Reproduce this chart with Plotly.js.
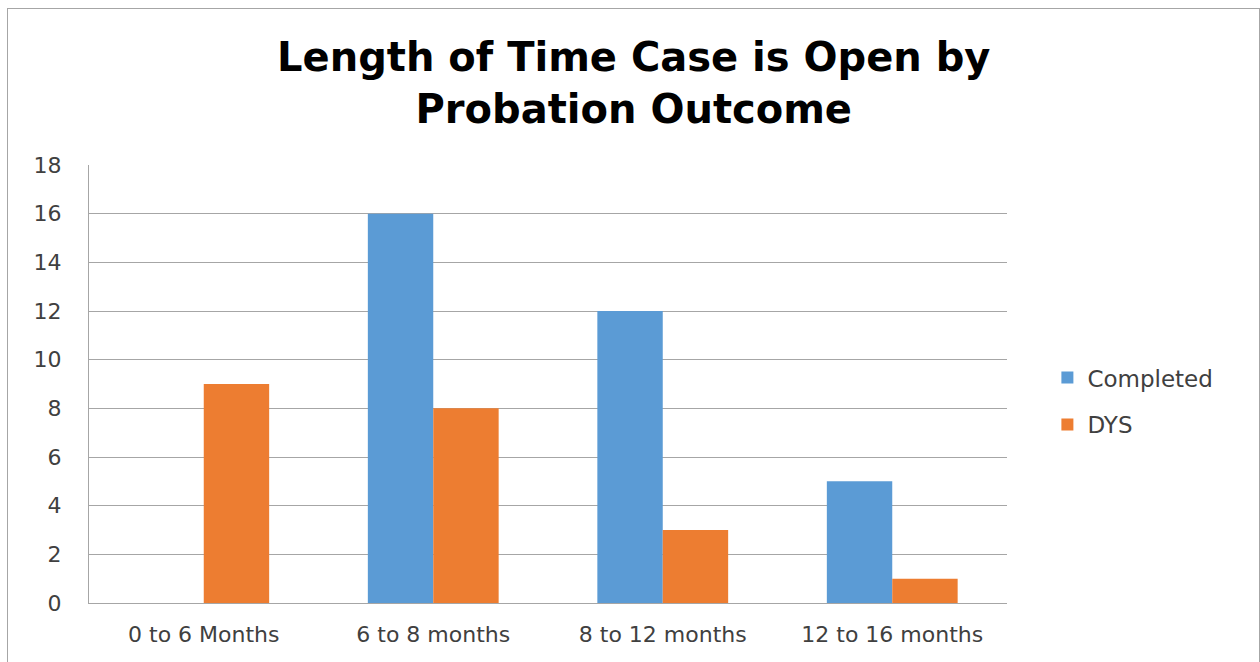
<!DOCTYPE html>
<html>
<head>
<meta charset="utf-8">
<script src="https://cdn.plot.ly/plotly-3.0.1.min.js"></script>
<style>
html,body{margin:0;padding:0;background:#fff;}
#wrap{position:relative;width:1260px;height:662px;overflow:hidden;}
#chart{width:1260px;height:662px;}
#frame{position:absolute;left:7px;top:8px;width:1251px;height:670px;border:1px solid #a6a6a6;pointer-events:none;}
</style>
</head>
<body>
<div id="wrap"><div id="chart"></div><div id="frame"></div></div>
<script>
const categories = ["0 to 6 Months", "6 to 8 months", "8 to 12 months", "12 to 16 months"];
const completed = [0, 16, 12, 5];
const dys = [9, 8, 3, 1];
const yTicks = [0, 2, 4, 6, 8, 10, 12, 14, 16, 18];

const font = "DejaVu Sans, Liberation Sans, sans-serif";
const data = [
  {type: "bar", name: "Completed", legendgroup: "a", x: categories, y: completed, marker: {color: "#5b9bd5"}},
  {type: "bar", name: "DYS", legendgroup: "b", x: categories, y: dys, marker: {color: "#ed7d31"}}
];
const layout = {
  width: 1260, height: 662,
  paper_bgcolor: "#fff", plot_bgcolor: "#fff",
  margin: {l: 89, r: 253, t: 165, b: 59},
  barmode: "group", bargap: 0.43, bargroupgap: 0,
  title: {
    text: "<b>Length of Time Case is Open by<br>Probation Outcome</b>",
    font: {family: font, size: 40, color: "#000"},
    x: 0.503, xanchor: "center", xref: "container",
    y: 0.893, yanchor: "top", yref: "container"
  },
  xaxis: {
    tickfont: {family: font, size: 22, color: "#404040"},
    showline: true, linecolor: "#a6a6a6", linewidth: 1,
    ticks: "", showgrid: false, ticklabelstandoff: 12
  },
  yaxis: {
    range: [0, 18], tickvals: yTicks, ticktext: yTicks.map(String),
    tickfont: {family: font, size: 22, color: "#404040"},
    showgrid: true, gridcolor: "#a6a6a6", gridwidth: 1,
    showline: true, linecolor: "#a6a6a6", linewidth: 1,
    ticks: "", ticklen: 0, zeroline: false, automargin: false,
    ticklabelstandoff: 22
  },
  legend: {
    x: 1.044, y: 0.461, xanchor: "left", yanchor: "middle",
    font: {family: font, size: 23, color: "#404040"},
    traceorder: "grouped", tracegroupgap: 14, itemwidth: 30
  },
  showlegend: true
};
Plotly.newPlot("chart", data, layout, {displayModeBar: false, staticPlot: true});
</script>
</body>
</html>
